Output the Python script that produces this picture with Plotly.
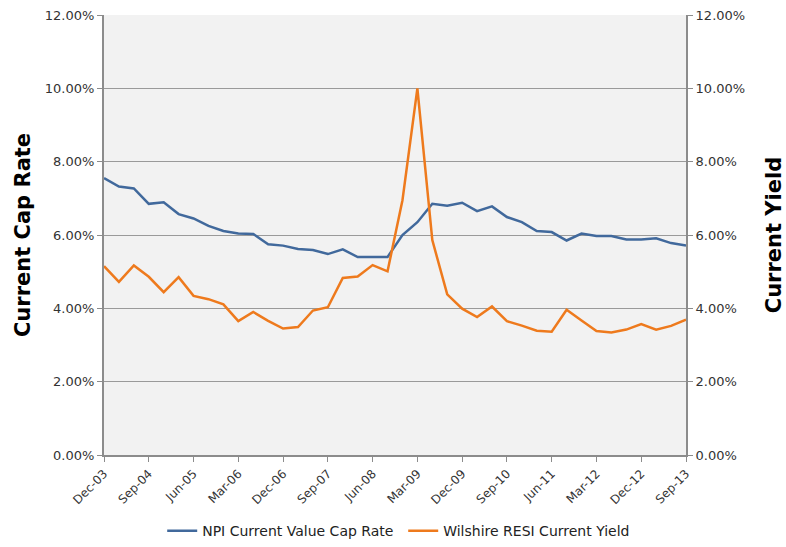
import plotly.graph_objects as go

months = ["Dec", "Mar", "Jun", "Sep"]
quarters = []
for i in range(40):
    m = months[i % 4]
    yr = 3 + (i + 3) // 4 if i % 4 != 0 else 3 + i // 4
    quarters.append(f"{m}-{yr:02d}")

npi_cap_rate = [7.55, 7.32, 7.27, 6.85, 6.89, 6.57, 6.45, 6.25, 6.11, 6.04,
                6.03, 5.75, 5.71, 5.62, 5.59, 5.48, 5.61, 5.40, 5.40, 5.40,
                6.00, 6.35, 6.85, 6.80, 6.88, 6.65, 6.78, 6.49, 6.35, 6.11,
                6.08, 5.85, 6.04, 5.97, 5.97, 5.88, 5.88, 5.91, 5.78, 5.71]
wilshire_yield = [5.15, 4.72, 5.17, 4.86, 4.44, 4.85, 4.34, 4.25, 4.11, 3.65,
                  3.90, 3.66, 3.45, 3.49, 3.94, 4.03, 4.83, 4.87, 5.18, 5.01,
                  6.95, 10.0, 5.86, 4.38, 3.99, 3.76, 4.05, 3.65, 3.53, 3.39,
                  3.36, 3.96, 3.67, 3.38, 3.34, 3.42, 3.57, 3.42, 3.52, 3.69]
tick_labels = quarters[::3]
y_ticks = [0, 2, 4, 6, 8, 10, 12]

fig = go.Figure()
fig.add_trace(go.Scatter(x=quarters, y=npi_cap_rate, mode="lines",
                         name="NPI Current Value Cap Rate",
                         line=dict(color="#41699C", width=2.5)))
fig.add_trace(go.Scatter(x=quarters, y=wilshire_yield, mode="lines",
                         name="Wilshire RESI Current Yield", yaxis="y2",
                         line=dict(color="#EE7A1D", width=2.5)))

tickfont = dict(family="DejaVu Sans", size=13, color="#333333")
yax = dict(range=[0, 12], tickvals=y_ticks, ticktext=[f"{v:.2f}%" for v in y_ticks],
           showline=True, linecolor="#8C8C8C", linewidth=2, ticks="outside",
           ticklen=5, tickcolor="#8C8C8C", tickfont=tickfont, zeroline=False,
           automargin=False)

fig.update_layout(
    width=786, height=547,
    margin=dict(l=104, r=100, t=15, b=92),
    paper_bgcolor="white", plot_bgcolor="#F2F2F2",
    showlegend=True,
    legend=dict(orientation="h", x=0.1, xanchor="left",
                yref="container", y=0.029, yanchor="middle",
                font=dict(family="DejaVu Sans", size=14, color="#222222"),
                entrywidth=196, tracegroupgap=0),
    xaxis=dict(type="category", range=[0, 39], tickvals=tick_labels,
               ticktext=tick_labels, tickangle=-45, showgrid=False,
               showline=True, linecolor="#8C8C8C", linewidth=2, ticks="outside",
               ticklen=5, tickcolor="#8C8C8C",
               tickfont=dict(family="DejaVu Sans", size=12, color="#333333"),
               automargin=False),
    yaxis=dict(**yax, showgrid=True, gridcolor="#9A9A9A", gridwidth=1,
               title=dict(text="Current Cap Rate", standoff=8,
                          font=dict(family="DejaVu Sans", size=21, color="black", weight="bold"))),
    yaxis2=dict(**yax, overlaying="y", side="right", showgrid=False,
                title=dict(text="Current Yield", standoff=22,
                           font=dict(family="DejaVu Sans", size=21, color="black", weight="bold"))),
)

fig.write_html("out.html", config={"displayModeBar": False},
               post_script="document.body.style.margin='0';document.body.style.overflow='hidden';")
